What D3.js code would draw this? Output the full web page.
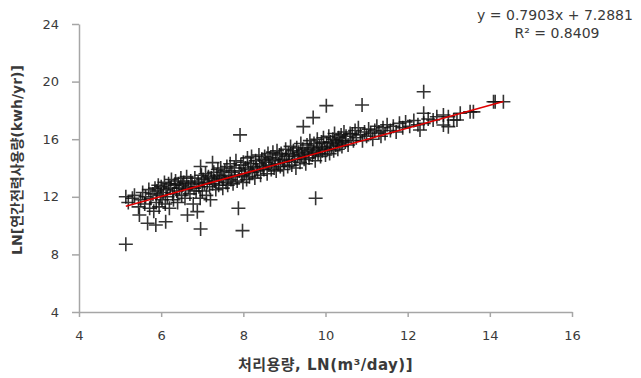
<!DOCTYPE html>
<html>
<head>
<meta charset="utf-8">
<script src="https://cdn.jsdelivr.net/npm/d3@7"></script>
<style>
  body { margin: 0; background: #fff; }
</style>
</head>
<body>
<div id="chart"></div>
<script>
// treatment capacity LN(m3/day) and annual power use LN(kwh/yr)
const capacity = [
  5.14, 5.14, 5.2, 5.3, 5.35, 5.47, 5.45, 5.5,
  5.55, 5.6, 5.62, 5.67, 5.7, 5.72, 5.75, 5.8, 5.82, 5.85, 5.87, 5.88, 5.9, 5.93, 5.95, 5.98,
  6.0, 6.02, 6.05, 6.08, 6.1, 6.11, 6.12, 6.15, 6.18, 6.2, 6.22, 6.25, 6.28, 6.3, 6.32, 6.35, 6.38, 6.4, 6.42, 6.45, 6.48,
  6.5, 6.52, 6.55, 6.58, 6.6, 6.62, 6.64, 6.66, 6.7, 6.72, 6.75, 6.78, 6.8, 6.82, 6.85, 6.88, 6.9, 6.92, 6.95, 6.96, 6.96, 6.98,
  7.0, 7.02, 7.05, 7.08, 7.1, 7.12, 7.15, 7.18, 7.2, 7.22, 7.25, 7.25, 7.28, 7.3, 7.33, 7.35, 7.38, 7.4, 7.42, 7.45, 7.48,
  7.5, 7.52, 7.55, 7.58, 7.6, 7.62, 7.65, 7.68, 7.7, 7.72, 7.75, 7.78, 7.8, 7.82, 7.85, 7.88, 7.9, 7.92, 7.94, 7.96, 7.98, 7.99,
  8.0, 8.03, 8.05, 8.08, 8.1, 8.12, 8.15, 8.18, 8.2, 8.22, 8.25, 8.28, 8.3, 8.32, 8.35, 8.38, 8.4, 8.42, 8.45, 8.48,
  8.5, 8.52, 8.55, 8.58, 8.6, 8.62, 8.65, 8.68, 8.7, 8.72, 8.75, 8.78, 8.8, 8.82, 8.85, 8.88, 8.9, 8.92, 8.95, 8.98,
  9.0, 9.03, 9.05, 9.08, 9.1, 9.12, 9.15, 9.18, 9.2, 9.22, 9.25, 9.28, 9.3, 9.32, 9.35, 9.38, 9.4, 9.42, 9.45, 9.46, 9.48,
  9.5, 9.52, 9.55, 9.58, 9.6, 9.62, 9.65, 9.68, 9.7, 9.7, 9.72, 9.75, 9.76, 9.78, 9.8, 9.82, 9.85, 9.88, 9.9, 9.92, 9.95, 9.98,
  10.0, 10.02, 10.03, 10.05, 10.08, 10.1, 10.12, 10.15, 10.18, 10.2, 10.22, 10.25, 10.28, 10.3, 10.32, 10.35, 10.38, 10.4, 10.42, 10.45, 10.48,
  10.5, 10.55, 10.6, 10.65, 10.68, 10.72, 10.75, 10.8, 10.85, 10.89, 10.9, 10.95,
  11.0, 11.05, 11.1, 11.15, 11.2, 11.25, 11.3, 11.35, 11.4, 11.45,
  11.5, 11.58, 11.65, 11.72, 11.8, 11.88, 11.95,
  12.05, 12.15, 12.25, 12.3, 12.39, 12.39, 12.39, 12.5, 12.62, 12.71, 12.87, 12.87, 12.99, 12.99, 13.12, 13.2, 13.28, 13.52, 13.6, 14.09, 14.13, 14.33
];
const powerUse = [
  8.7, 12.0, 11.6, 11.9, 12.1, 10.74, 11.3, 11.8,
  12.3, 11.5, 12.0, 10.16, 12.5, 11.2, 11.9, 12.2, 11.0, 12.6, 10.04, 11.6, 12.4, 12.8, 11.3, 12.1,
  12.7, 11.8, 12.3, 13.0, 11.5, 10.27, 12.5, 12.0, 12.9, 11.2, 12.6, 13.2, 12.2, 11.8, 12.8, 13.1, 12.4, 11.6, 12.9, 12.6, 13.3,
  12.1, 12.8, 13.0, 11.9, 12.5, 13.4, 10.74, 12.7, 12.2, 13.1, 12.9, 11.5, 12.6, 13.3, 12.4, 10.97, 13.0, 12.7, 11.9, 9.76, 14.1, 13.5,
  12.4, 13.2, 12.9, 13.6, 12.1, 13.0, 13.4, 12.7, 11.8, 13.3, 14.37, 12.9, 13.7, 13.1, 12.5, 13.5, 13.9, 12.8, 13.2, 14.0, 13.4,
  12.6, 13.3, 13.8, 13.0, 14.1, 12.8, 13.5, 14.3, 13.2, 13.7, 12.9, 14.0, 13.4, 14.5, 13.1, 11.2, 13.8, 16.3, 14.2, 13.5, 9.65, 13.0,
  14.4, 13.6, 14.0, 13.2, 14.7, 13.9, 13.4, 14.3, 14.8, 13.7, 14.1, 13.3, 14.5, 14.0, 13.8, 14.9, 14.3, 13.5, 14.6, 14.1,
  13.9, 14.8, 14.4, 13.6, 15.0, 14.2, 14.7, 13.9, 14.5, 15.1, 14.0, 14.6, 13.8, 15.2, 14.3, 14.9, 14.1, 15.0, 14.6, 13.9,
  14.4, 15.3, 14.8, 14.1, 15.0, 14.5, 15.5, 14.2, 14.9, 15.2, 14.6, 14.0, 15.4, 14.8, 15.1, 14.4, 15.7, 14.9, 15.3, 16.87, 14.6,
  15.0, 14.3, 15.6, 15.2, 14.7, 15.9, 15.4, 14.9, 17.5, 15.1, 15.7, 14.5, 11.9, 15.3, 16.0, 15.0, 15.5, 14.8, 15.8, 15.2, 16.1, 15.4,
  14.9, 18.33, 15.7, 15.3, 16.2, 15.0, 15.8, 15.5, 16.0, 15.2, 16.4, 15.6, 15.9, 15.3, 16.1, 15.7, 16.3, 15.5, 15.9, 16.5, 15.8,
  16.2, 15.6, 16.4, 16.36, 15.9, 16.6, 16.1, 16.8, 16.3, 18.38, 15.9, 16.5,
  16.2, 16.7, 16.4, 16.0, 16.6, 16.9, 16.5, 16.2, 16.8, 16.4,
  17.0, 16.6, 16.9, 16.5, 17.1, 16.8, 17.2,
  16.9, 17.3, 17.0, 16.64, 19.3, 17.8, 17.1, 17.4, 17.33, 17.56, 17.68, 16.99, 17.56, 16.87, 17.33, 17.33, 17.8, 17.9, 17.9, 18.6, 18.6, 18.6
];

// trendline from the chart label
const slope = 0.7903;
const intercept = 7.2881;
const r2 = 0.8409;

const xTicks = [4, 6, 8, 10, 12, 14, 16];
const yTicks = [4, 8, 12, 16, 20, 24];

const width = 641, height = 378;
const margin = { top: 24, right: 69, bottom: 66, left: 79 };
const font = "'DejaVu Sans', 'Noto Sans CJK KR', sans-serif";
const axisColor = "#a6a6a6";
const textColor = "#3a3a3a";

const svg = d3.select("#chart").append("svg")
    .attr("width", width)
    .attr("height", height)
    .style("font-family", font);

const xScale = d3.scaleLinear()
    .domain([4, 16])
    .range([margin.left, width - margin.right]);

const yScale = d3.scaleLinear()
    .domain([4, 24])
    .range([height - margin.bottom, margin.top]);

// axes
const xAxis = svg.append("g")
    .attr("transform", `translate(0,${height - margin.bottom})`)
    .call(d3.axisBottom(xScale).tickValues(xTicks).tickSize(5).tickSizeOuter(0).tickPadding(14));

const yAxis = svg.append("g")
    .attr("transform", `translate(${margin.left},0)`)
    .call(d3.axisLeft(yScale).tickValues(yTicks).tickSize(7).tickSizeOuter(0).tickPadding(13));

[xAxis, yAxis].forEach(ax => {
    ax.selectAll("path, line").attr("stroke", axisColor).attr("stroke-width", 1.5);
    ax.selectAll("text")
        .attr("fill", textColor)
        .attr("font-size", "13px")
        .attr("font-family", font);
});

// points as "+" markers
const pts = capacity.map((x, i) => ({ x: x, y: powerUse[i] }));
const arm = 7;

const marks = svg.append("g")
    .attr("stroke", "#111")
    .attr("stroke-width", 1.6)
    .attr("stroke-opacity", 0.85)
    .attr("fill", "none");

marks.selectAll("path")
    .data(pts)
    .enter()
    .append("path")
    .attr("d", d => {
        const cx = xScale(d.x), cy = yScale(d.y);
        return `M${cx - arm},${cy}H${cx + arm}M${cx},${cy - arm}V${cy + arm}`;
    });

// linear trendline across the data range
const xMin = d3.min(capacity), xMax = d3.max(capacity);
svg.append("line")
    .attr("x1", xScale(xMin))
    .attr("y1", yScale(intercept + slope * xMin))
    .attr("x2", xScale(xMax))
    .attr("y2", yScale(intercept + slope * xMax))
    .attr("stroke", "#e00000")
    .attr("stroke-width", 1.5);

// equation label
const eq = svg.append("text")
    .attr("x", 555)
    .attr("y", 20)
    .attr("text-anchor", "middle")
    .attr("fill", textColor)
    .attr("font-size", "14px");
eq.append("tspan").text(`y = ${slope}x + ${intercept}`);
eq.append("tspan").attr("x", 557).attr("dy", 18).text(`R² = ${r2}`);

// axis titles
svg.append("text")
    .attr("x", xScale(10))
    .attr("y", 370)
    .attr("text-anchor", "middle")
    .attr("font-size", "15px")
    .attr("font-weight", "bold")
    .attr("letter-spacing", "0.5px")
    .attr("fill", textColor)
    .text("처리용량, LN(m³/day)]");

svg.append("text")
    .attr("transform", `translate(22,160) rotate(-90)`)
    .attr("text-anchor", "middle")
    .attr("font-size", "14px")
    .attr("font-weight", "bold")
    .attr("fill", textColor)
    .text("LN[연간전력사용량(kwh/yr)]");
</script>
</body>
</html>
